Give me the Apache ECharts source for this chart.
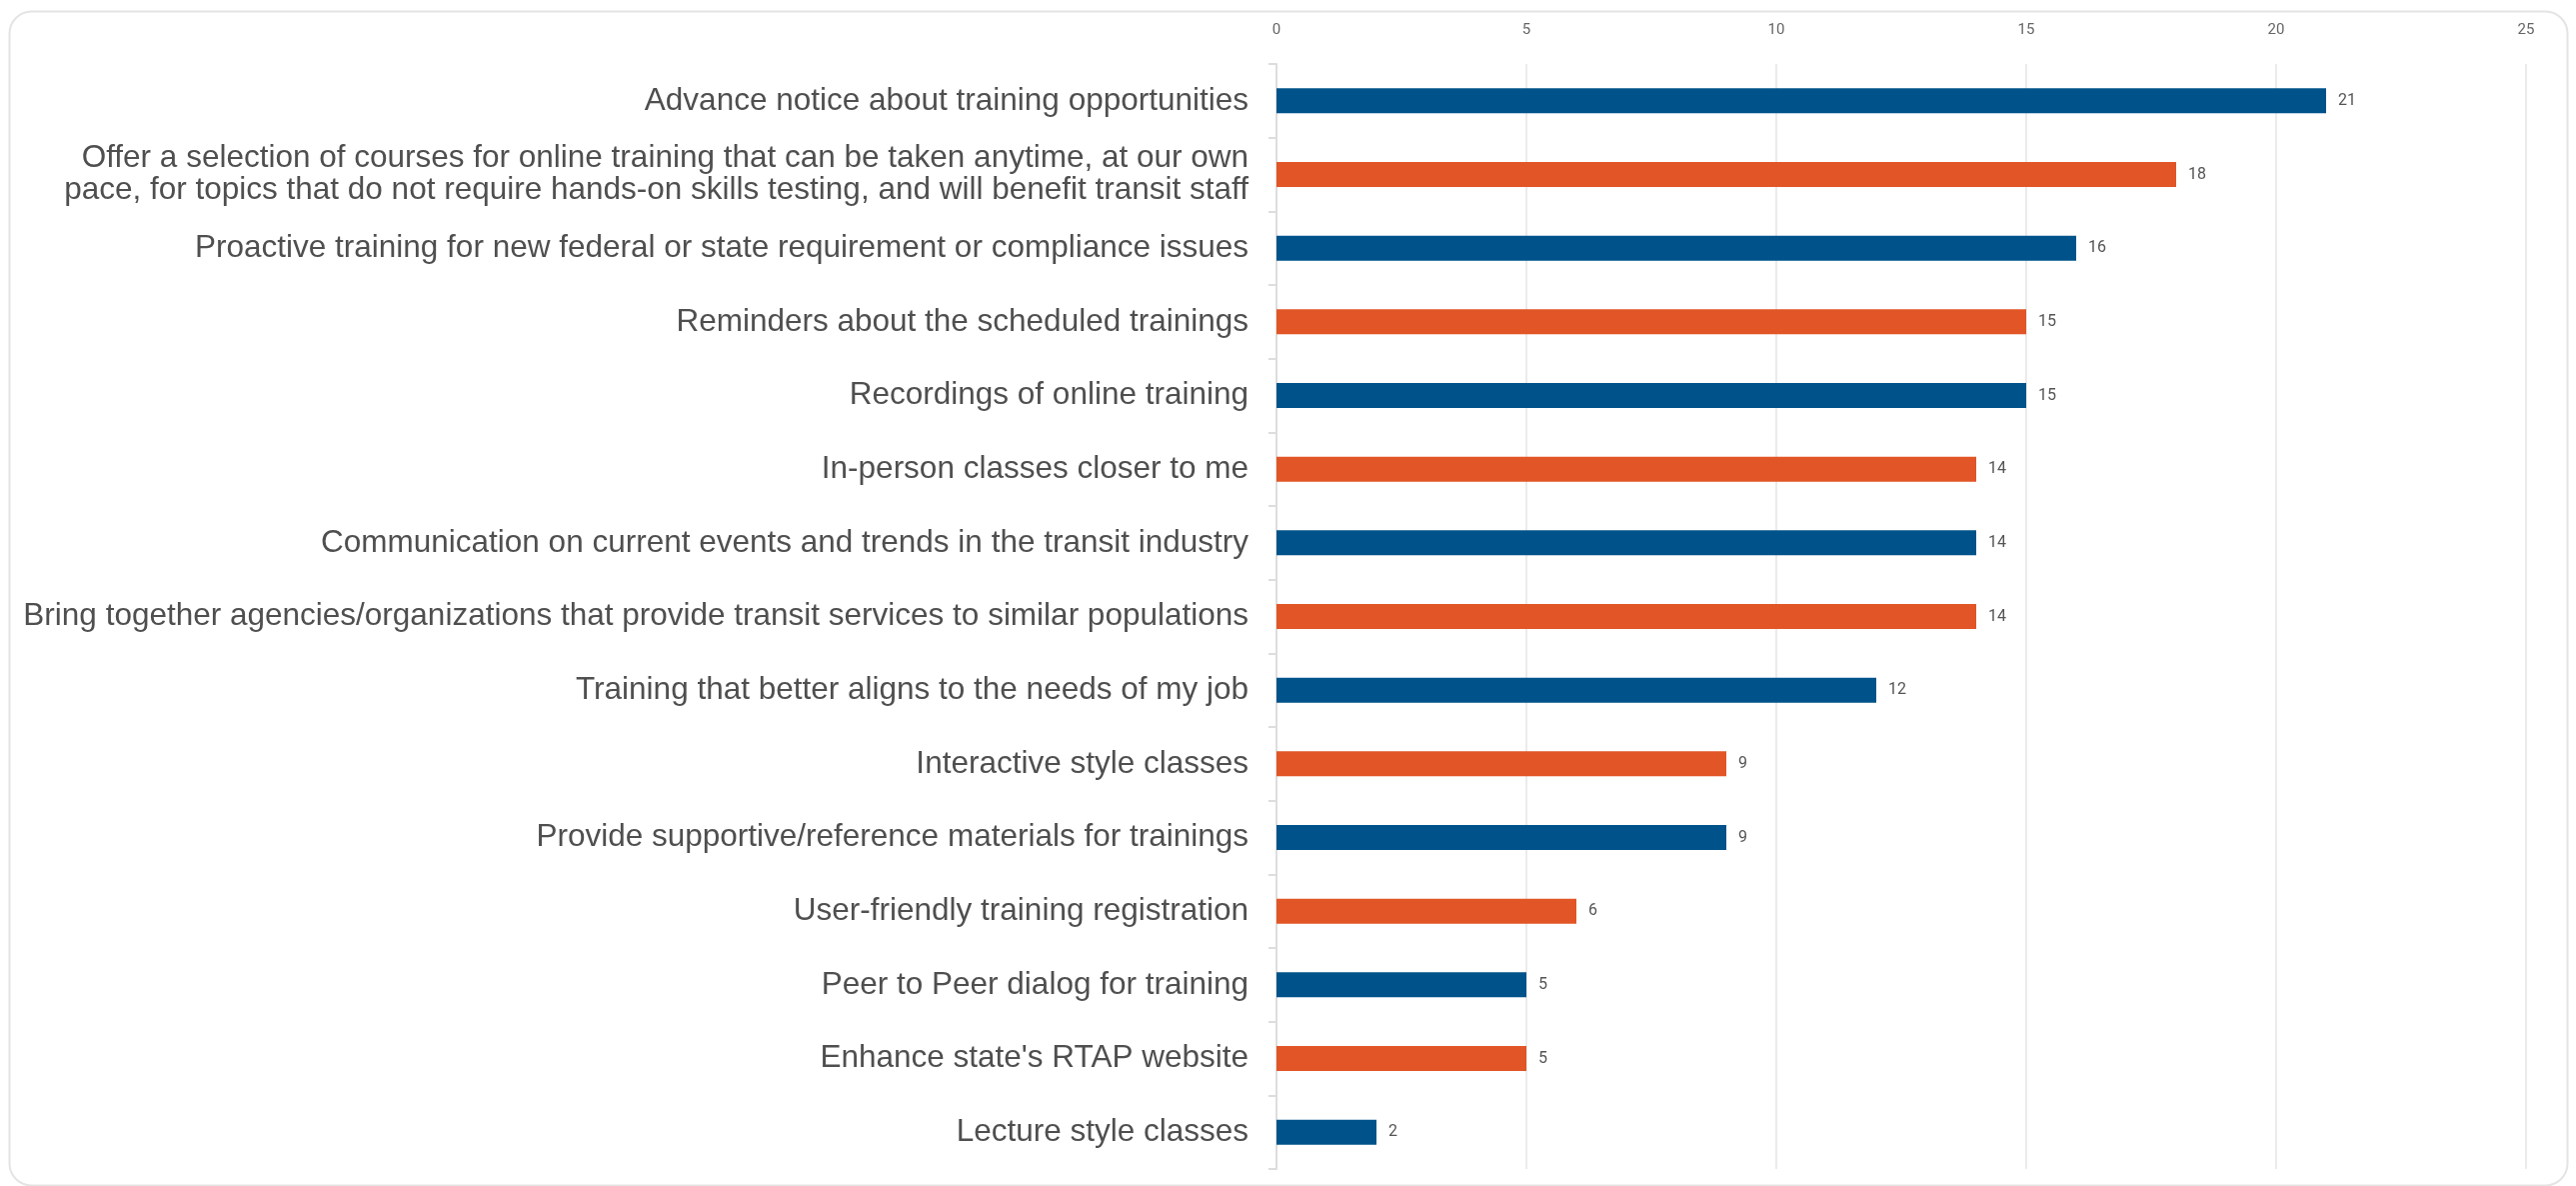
<!DOCTYPE html>
<html>
<head>
<meta charset="utf-8">
<script src="https://cdn.jsdelivr.net/npm/echarts@6/dist/echarts.min.js"></script>
<style>
  html, body { margin: 0; padding: 0; background: #ffffff; }
  #chart { width: 2577px; height: 1186px; }
</style>
</head>
<body>
<div id="chart"></div>
<script>
// Survey responses: what would improve training
const categories = [
  "Advance notice about training opportunities",
  "Offer a selection of courses for online training that can be taken anytime, at our own\npace, for topics that do not require hands-on skills testing, and will benefit transit staff",
  "Proactive training for new federal or state requirement or compliance issues",
  "Reminders about the scheduled trainings",
  "Recordings of online training",
  "In-person classes closer to me",
  "Communication on current events and trends in the transit industry",
  "Bring together agencies/organizations that provide transit services to similar populations",
  "Training that better aligns to the needs of my job",
  "Interactive style classes",
  "Provide supportive/reference materials for trainings",
  "User-friendly training registration",
  "Peer to Peer dialog for training",
  "Enhance state's RTAP website",
  "Lecture style classes"
];
const responses = [21, 18, 16, 15, 15, 14, 14, 14, 12, 9, 9, 6, 5, 5, 2];
const axisTicks = [0, 5, 10, 15, 20, 25];

const BLUE = "#00528a";
const ORANGE = "#e15526";

const chart = echarts.init(document.getElementById("chart"), null, { renderer: "canvas" });

chart.setOption({
  backgroundColor: "#ffffff",
  animation: false,
  graphic: [{
    type: "rect",
    left: 7, top: 9,
    shape: { width: 2559, height: 1174, r: 22 },
    style: { fill: "none", stroke: "#e4e4e4", lineWidth: 2 },
    z: -10
  }],
  grid: { left: 1277, right: 50, top: 64, bottom: 17, containLabel: false },
  xAxis: {
    type: "value",
    position: "top",
    min: axisTicks[0],
    max: axisTicks[axisTicks.length - 1],
    interval: 5,
    axisLine: { show: false },
    axisTick: { show: false },
    axisLabel: {
      margin: 26,
      fontFamily: "Roboto, sans-serif",
      fontSize: 15,
      color: "#666666"
    },
    splitLine: { show: true, lineStyle: { color: "#ebebeb", width: 2 } }
  },
  yAxis: {
    type: "category",
    inverse: true,
    data: categories,
    axisLine: { show: true, lineStyle: { color: "#dddddd", width: 2 } },
    axisTick: { show: true, length: 8, lineStyle: { color: "#dddddd", width: 2 } },
    axisLabel: {
      margin: 28,
      fontFamily: "Liberation Sans, Arial, sans-serif",
      fontSize: 31.5,
      lineHeight: 32,
      padding: [4, 0, 0, 0],
      color: "#4f4f4f",
      align: "right"
    }
  },
  series: [{
    type: "bar",
    data: responses,
    barWidth: 25,
    itemStyle: {
      color: function (p) { return p.dataIndex % 2 === 0 ? BLUE : ORANGE; }
    },
    label: {
      show: true,
      position: "right",
      distance: 12,
      fontFamily: "Roboto, sans-serif",
      fontSize: 16,
      color: "#555555"
    }
  }]
});
</script>
</body>
</html>
